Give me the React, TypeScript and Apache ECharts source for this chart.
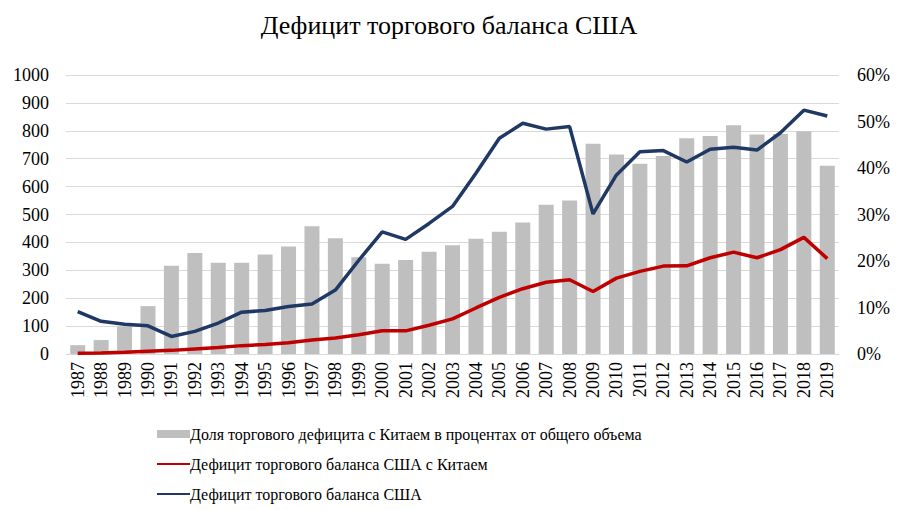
import React, { useEffect, useRef } from "react";
import * as echarts from "echarts";

const years = [
  "1987", "1988", "1989", "1990", "1991", "1992", "1993", "1994", "1995", "1996", "1997",
  "1998", "1999", "2000", "2001", "2002", "2003", "2004", "2005", "2006", "2007", "2008",
  "2009", "2010", "2011", "2012", "2013", "2014", "2015", "2016", "2017", "2018", "2019",
];

// Share of China in the US trade deficit, %
const chinaShare = [
  1.9, 3.0, 5.9, 10.3, 19.0, 21.7, 19.6, 19.6, 21.4, 23.1, 27.5,
  24.9, 20.8, 19.4, 20.2, 22.0, 23.4, 24.8, 26.3, 28.3, 32.1, 33.0,
  45.2, 42.9, 40.9, 42.6, 46.4, 46.9, 49.2, 47.2, 47.3, 47.9, 40.5,
];

// US trade deficit with China, bn USD
const chinaDeficit = [
  3, 3.5, 6, 10, 13, 18, 23, 30, 34, 40, 50,
  57, 69, 83, 83, 103, 126, 165, 203, 234, 257, 266,
  224, 272, 296, 315, 316, 345, 365, 345, 374, 418, 342,
];

// Total US trade deficit, bn USD
const usDeficit = [
  152, 117, 107, 101, 63, 81, 111, 150, 156, 170, 179,
  229, 336, 438, 411, 468, 529, 648, 773, 827, 806, 815,
  502, 642, 725, 729, 688, 734, 741, 731, 793, 874, 853,
];

const leftTicks = { min: 0, max: 1000, interval: 100 };
const rightTicks = { min: 0, max: 60, interval: 10 };

const serif = "'Liberation Serif', 'Times New Roman', serif";

export default function App() {
  const ref = useRef<HTMLDivElement>(null);
  useEffect(() => {
    if (!ref.current) return;
    const chart = echarts.init(ref.current, undefined, { renderer: "svg" });
    chart.setOption({
      animation: false,
      backgroundColor: "#ffffff",
      textStyle: { fontFamily: serif },
      title: {
        text: "Дефицит торгового баланса США",
        left: "center",
        top: 12,
        padding: 0,
        textStyle: { fontFamily: serif, fontSize: 26, fontWeight: "normal", color: "#000" },
      },
      grid: { left: 66, right: 59, top: 75, bottom: 156, containLabel: false },
      legend: {
        orient: "vertical",
        left: 156,
        top: 426,
        padding: 0,
        itemWidth: 33,
        itemHeight: 8,
        itemGap: 14,
        textStyle: { fontFamily: serif, fontSize: 16, color: "#000", padding: [0, 0, 0, -5] },
        data: [
          { name: "Доля торгового дефицита с Китаем в процентах от общего объема", icon: "rect" },
          {
            name: "Дефицит торгового баланса США с Китаем",
            itemStyle: { opacity: 0, color: "transparent", borderWidth: 0 },
          },
          {
            name: "Дефицит торгового баланса США",
            itemStyle: { opacity: 0, color: "transparent", borderWidth: 0 },
          },
        ],
      },
      xAxis: {
        type: "category",
        data: years,
        axisTick: { show: false },
        axisLine: { lineStyle: { color: "#d9d9d9", width: 1 } },
        axisLabel: {
          rotate: 90,
          margin: 8,
          interval: 0,
          fontFamily: serif,
          fontSize: 18,
          color: "#000",
        },
      },
      yAxis: [
        {
          type: "value",
          min: leftTicks.min,
          max: leftTicks.max,
          interval: leftTicks.interval,
          axisLine: { show: false },
          axisTick: { show: false },
          splitLine: { lineStyle: { color: "#d9d9d9", width: 1 } },
          axisLabel: {
            margin: 17,
            formatter: (v: number) => String(v),
            fontFamily: serif,
            fontSize: 18,
            color: "#000",
          },
        },
        {
          type: "value",
          min: rightTicks.min,
          max: rightTicks.max,
          interval: rightTicks.interval,
          axisLine: { show: false },
          axisTick: { show: false },
          splitLine: { show: false },
          axisLabel: {
            margin: 18,
            formatter: "{value}%",
            fontFamily: serif,
            fontSize: 18,
            color: "#000",
          },
        },
      ],
      series: [
        {
          name: "Доля торгового дефицита с Китаем в процентах от общего объема",
          type: "bar",
          yAxisIndex: 1,
          data: chinaShare,
          barWidth: 15,
          itemStyle: { color: "#bfbfbf" },
        },
        {
          name: "Дефицит торгового баланса США с Китаем",
          type: "line",
          yAxisIndex: 0,
          data: chinaDeficit,
          symbol: "none",
          lineStyle: { color: "#c00000", width: 3.5 },
          itemStyle: { color: "#c00000" },
        },
        {
          name: "Дефицит торгового баланса США",
          type: "line",
          yAxisIndex: 0,
          data: usDeficit,
          symbol: "none",
          lineStyle: { color: "#203864", width: 3.5 },
          itemStyle: { color: "#203864" },
        },
      ],
    });
    return () => chart.dispose();
  }, []);
  return <div ref={ref} style={{ width: 898, height: 510, position: "absolute", left: 0, top: 0 }} />;
}
